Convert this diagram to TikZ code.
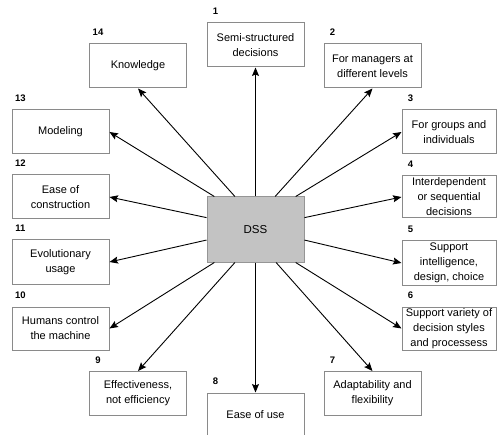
\documentclass[tikz,border=0pt]{standalone}
\usepackage{fontspec}
\setmainfont{Liberation Sans}
\usetikzlibrary{arrows.meta,calc}
\definecolor{boxline}{HTML}{8A8A8A}
\definecolor{dssfill}{HTML}{C3C3C3}
\definecolor{dssline}{HTML}{959595}
\begin{document}
\begin{tikzpicture}[x=1pt,y=-1pt,
  box/.style={draw=boxline,line width=1pt,fill=white,minimum width=97pt,minimum height=44pt,inner xsep=1pt,inner ysep=0pt,align=center,font=\fontsize{11}{15}\selectfont},
  rbox/.style={box,minimum width=94pt},
  core/.style={draw=dssline,line width=1pt,fill=dssfill,minimum width=97pt,minimum height=65pt,font=\fontsize{11.5}{13}\selectfont},
  num/.style={font=\fontsize{9.5}{11}\selectfont\bfseries,inner sep=0pt},
  arr/.style={-{Stealth[length=8.5pt,width=7pt,inset=1.5pt]},line width=0.9pt,black}]
\useasboundingbox (0,0) rectangle (497,435);

\node[core] (dss) at (255.5,229.5) {DSS};

\node[box]  (b1)  at (255.5,45)   {Semi-structured\\decisions};
\node[box]  (b2)  at (372.5,66)   {For managers at\\different levels};
\node[rbox] (b3)  at (449,132)    {For groups and\\individuals};
\node[rbox,minimum height=42pt] (b4) at (449,197) {Interdependent\\or sequential\\decisions};
\node[rbox] (b5)  at (449,263)    {Support\\intelligence,\\design, choice};
\node[rbox,minimum height=43pt] (b6) at (449,328.5) {Support variety of\\decision styles\\and processess};
\node[box]  (b7)  at (372.5,393.5) {Adaptability and\\flexibility};
\node[box]  (b8)  at (255.5,415)  {Ease of use};
\node[box]  (b9)  at (138,393.5)  {Effectiveness,\\not efficiency};
\node[box,minimum height=43pt] (b10) at (60.5,328.5) {Humans control\\the machine};
\node[box]  (b11) at (60.5,262)   {Evolutionary\\usage};
\node[box]  (b12) at (60.5,197)   {Ease of\\construction};
\node[box]  (b13) at (60.5,132)   {Modeling};
\node[box]  (b14) at (138,66)     {Knowledge};

\foreach \i in {1,...,14}{
  \node[num] (n\i) at ([shift={(9,-11)}]b\i.north west) {\i};
}

\coordinate (s2)  at ($(dss.north west)!0.70!(dss.north east)$);
\coordinate (s3)  at ($(dss.north west)!0.91!(dss.north east)$);
\coordinate (s4)  at ($(dss.north east)!0.32!(dss.south east)$);
\coordinate (s5)  at ($(dss.north east)!0.66!(dss.south east)$);
\coordinate (s6)  at ($(dss.south west)!0.91!(dss.south east)$);
\coordinate (s7)  at ($(dss.south west)!0.71!(dss.south east)$);
\coordinate (s9)  at ($(dss.south west)!0.29!(dss.south east)$);
\coordinate (s10) at ($(dss.south west)!0.08!(dss.south east)$);
\coordinate (s11) at ($(dss.north west)!0.66!(dss.south west)$);
\coordinate (s12) at ($(dss.north west)!0.32!(dss.south west)$);
\coordinate (s13) at ($(dss.north west)!0.08!(dss.north east)$);
\coordinate (s14) at ($(dss.north west)!0.29!(dss.north east)$);

\draw[arr] (dss.north) -- (b1.south);
\draw[arr] (s2) -- (b2.south);
\draw[arr] (s3) -- (b3.west);
\draw[arr] (s4) -- (b4.west);
\draw[arr] (s5) -- (b5.west);
\draw[arr] (s6) -- (b6.west);
\draw[arr] (s7) -- (b7.north);
\draw[arr] (dss.south) -- (b8.north);
\draw[arr] (s9) -- (b9.north);
\draw[arr] (s10) -- (b10.east);
\draw[arr] (s11) -- (b11.east);
\draw[arr] (s12) -- (b12.east);
\draw[arr] (s13) -- (b13.east);
\draw[arr] (s14) -- (b14.south);
\end{tikzpicture}
\end{document}
